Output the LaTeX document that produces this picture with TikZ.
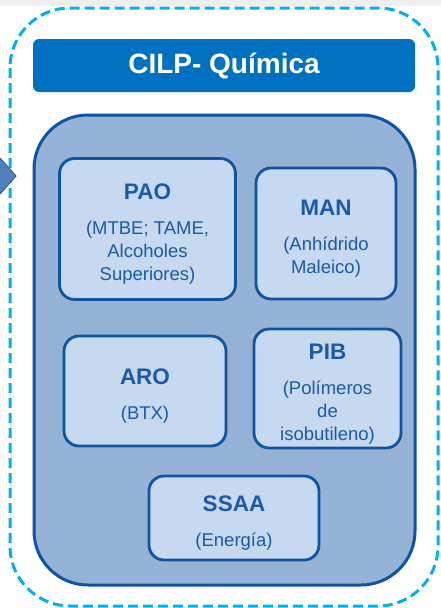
\documentclass[tikz,border=0pt]{standalone}
\usepackage{fontspec}
\setmainfont{Liberation Sans}
\definecolor{dashblue}{HTML}{00B0F0}
\definecolor{titleblue}{HTML}{0070C0}
\definecolor{mainfill}{HTML}{95B3D7}
\definecolor{edgeblue}{HTML}{0D55A3}
\definecolor{boxfill}{HTML}{C6D9F1}
\definecolor{textblue}{HTML}{1A5AA6}
\definecolor{arrowfill}{HTML}{4F81BD}
\definecolor{arrowedge}{HTML}{385D8A}
\definecolor{bandgray}{HTML}{EFEFEF}
\begin{document}
\begin{tikzpicture}[x=1pt,y=-1pt,
  unitbox/.style={draw=edgeblue, line width=2.8pt, fill=boxfill, rounded corners=15pt,
    inner sep=0pt},
  unittext/.style={align=center, text=textblue, inner sep=0pt,
    font=\fontsize{18.5}{23}\selectfont}]
\useasboundingbox (0,0) rectangle (441,608);
\fill[white] (0,0) rectangle (441,608);
\fill[bandgray] (0,0) rectangle (441,6);
% outer dashed frame
\draw[dashblue, line width=3pt, dash pattern=on 10pt off 5pt, rounded corners=60pt]
  (10,8) rectangle (438,606);
% incoming arrow at left edge
\filldraw[fill=arrowfill, draw=arrowedge, line width=1pt]
  (-2,158) -- (0,158) -- (16,176) -- (0,194) -- (-2,194) -- cycle;
% title bar
\node[fill=titleblue, rounded corners=6pt, minimum width=382pt, minimum height=53pt,
  inner sep=0pt, text=white, font=\bfseries\fontsize{28}{30}\selectfont]
  (title) at (224,65.5) {CILP- Química};
% main panel
\node[draw=edgeblue, fill=mainfill, line width=3pt, rounded corners=54pt,
  minimum width=381pt, minimum height=470pt, inner sep=0pt] (main) at (224.5,350) {};
% unit boxes
\newcommand{\ttl}[1]{{\bfseries\fontsize{22.5}{22}\selectfont #1}\\[12pt]}
\node[unitbox, minimum width=176pt, minimum height=141pt] (pao) at (147.5,229) {};
\node[unittext] (paot) at ([yshift=-5.5pt]pao.center)
  {\ttl{PAO}(MTBE; TAME,\\Alcoholes\\Superiores)};
\node[unitbox, minimum width=140pt, minimum height=131pt] (man) at (326,233.5) {};
\node[unittext] (mant) at ([yshift=-5.5pt]man.center)
  {\ttl{MAN}(Anhídrido\\Maleico)};
\node[unitbox, minimum width=162pt, minimum height=110pt] (aro) at (145,391) {};
\node[unittext] (arot) at ([yshift=-5.5pt]aro.center)
  {\ttl{ARO}(BTX)};
\node[unitbox, minimum width=147pt, minimum height=119pt] (pib) at (327.5,388.5) {};
\node[unittext] (pibt) at ([yshift=-5.5pt]pib.center)
  {\ttl{PIB}(Polímeros\\de\\isobutileno)};
\node[unitbox, minimum width=170pt, minimum height=84pt] (ssaa) at (234,518) {};
\node[unittext] (ssaat) at ([yshift=-5.5pt]ssaa.center)
  {\ttl{SSAA}(Energía)};
\end{tikzpicture}
\end{document}
